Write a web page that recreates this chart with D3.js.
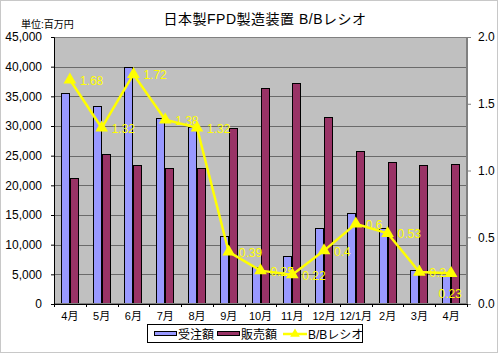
<!DOCTYPE html>
<html><head><meta charset="utf-8">
<script src="https://cdn.jsdelivr.net/npm/d3@7"></script>
<style>
html,body{margin:0;padding:0;background:#fff;}
text{font-family:"Liberation Sans","Noto Sans CJK JP",sans-serif;}
</style></head>
<body><svg id="c" width="500" height="355"></svg>
<script>
const categories = ["4月","5月","6月","7月","8月","9月","10月","11月","12月","12/1月","2月","3月","4月"];
const orders = [35600,33400,40000,31400,29900,11500,6300,8100,12800,15400,12800,5700,4800];
const sales = [21200,25300,23400,22900,23000,29700,36400,37200,31600,25800,23900,23400,23600];
const ratio = [1.68,1.32,1.72,1.38,1.32,0.39,0.25,0.22,0.4,0.6,0.53,0.24,0.23];
const leftTicks = [0,5000,10000,15000,20000,25000,30000,35000,40000,45000];
const rightTicks = [0,0.5,1.0,1.5,2.0];
const seriesNames = ["受注額","販売額","B/Bレシオ"];

const svg = d3.select("#c");
const L=54,R=467,T=37,B=304;
svg.append("rect").attr("x",0.5).attr("y",0.5).attr("width",497).attr("height",352)
  .attr("fill","#fff").attr("stroke","#c8c8c8");

const x = d3.scaleBand().domain(d3.range(categories.length)).range([L,R]).padding(0);
const x1 = d3.scaleBand().domain([0,1]).range([0,x.bandwidth()]).paddingInner(0).paddingOuter(0.77);
const y = d3.scaleLinear().domain([0,45000]).range([B,T]);
const y2 = d3.scaleLinear().domain([0,2]).range([B,T]);

svg.append("rect").attr("x",L).attr("y",T).attr("width",R-L).attr("height",B-T).attr("fill","#c0c0c0");
svg.append("g").selectAll("line").data(leftTicks.slice(1)).join("line")
  .attr("x1",L).attr("x2",R).attr("y1",d=>Math.round(y(d))+0.5).attr("y2",d=>Math.round(y(d))+0.5)
  .attr("stroke","#6a6a6a").attr("stroke-width",1);

const g = svg.append("g");
g.selectAll("rect.o").data(orders).join("rect").attr("class","o")
  .attr("x",(d,i)=>Math.round(x(i)+x1(0))+0.5).attr("width",Math.round(x1.bandwidth())-1)
  .attr("y",d=>Math.round(y(d))+0.5).attr("height",d=>B-Math.round(y(d))-0.5)
  .attr("fill","#9999ff").attr("stroke","#000").attr("stroke-width",1);
g.selectAll("rect.s").data(sales).join("rect").attr("class","s")
  .attr("x",(d,i)=>Math.round(x(i)+x1(1))+0.5).attr("width",Math.round(x1.bandwidth())-1)
  .attr("y",d=>Math.round(y(d))+0.5).attr("height",d=>B-Math.round(y(d))-0.5)
  .attr("fill","#993366").attr("stroke","#000").attr("stroke-width",1);

svg.append("rect").attr("x",L+0.5).attr("y",T+0.5).attr("width",R-L-1).attr("height",B-T-1)
  .attr("fill","none").attr("stroke","#808080");

const ax = svg.append("g").attr("transform",`translate(${L},0)`)
  .call(d3.axisLeft(y).tickValues(leftTicks).tickSize(3).tickFormat(d3.format(",")));
ax.select(".domain").attr("stroke","#000");
ax.selectAll("line").attr("stroke","#000");
ax.selectAll("text").attr("font-size",12).attr("fill","#000").attr("x",-12);
const ar = svg.append("g").attr("transform",`translate(${R},0)`)
  .call(d3.axisRight(y2).tickValues(rightTicks).tickSize(4).tickFormat(d3.format(".1f")));
ar.select(".domain").attr("stroke","#808080");
ar.selectAll("line").attr("stroke","#808080");
ar.selectAll("text").attr("font-size",12).attr("fill","#000").attr("x",11);
const ab = svg.append("g").attr("transform",`translate(0,${B})`)
  .call(d3.axisBottom(x).tickSize(0).tickFormat(i=>categories[i]));
ab.select(".domain").attr("stroke","#000");
ab.selectAll("text").attr("font-size",11).attr("fill","#000").attr("dy","1.15em");
svg.append("g").selectAll("line").data(d3.range(categories.length+1)).join("line")
  .attr("x1",i=>Math.round(L+i*x.step())+0.5).attr("x2",i=>Math.round(L+i*x.step())+0.5)
  .attr("y1",B).attr("y2",B+3).attr("stroke","#000");

const cx = i=>x(i)+x.bandwidth()/2;
svg.append("path").datum(ratio)
  .attr("d",d3.line().x((d,i)=>cx(i)).y(d=>y2(d)))
  .attr("fill","none").attr("stroke","#ffff00").attr("stroke-width",2.5);
svg.append("g").selectAll("path").data(ratio).join("path")
  .attr("transform",(d,i)=>`translate(${cx(i)},${y2(d)})`)
  .attr("d",d3.symbol(d3.symbolTriangle,70)).attr("fill","#ffff00");
svg.append("g").selectAll("text").data(ratio).join("text")
  .attr("x",(d,i)=> i===ratio.length-1 ? cx(i)-1 : cx(i)+10)
  .attr("y",(d,i)=> i===ratio.length-1 ? y2(d)+25 : y2(d)+5)
  .attr("text-anchor",(d,i)=> i===ratio.length-1 ? "middle":"start")
  .attr("font-size",12).attr("fill","#ffff00").text(d=>String(d));

svg.append("text").attr("x",265).attr("y",24).attr("text-anchor","middle")
  .attr("font-size",14).attr("letter-spacing",0.5).attr("fill","#000").text("日本製FPD製造装置 B/Bレシオ");
svg.append("text").attr("x",21).attr("y",28).attr("font-size",10).attr("fill","#000").text("単位:百万円");

const lg = svg.append("g");
lg.append("rect").attr("x",147.5).attr("y",324.5).attr("width",215).attr("height",18)
  .attr("fill","#fff").attr("stroke","#000");
const items = [{x:154,type:"bar",color:"#9999ff"},{x:217,type:"bar",color:"#993366"},{x:283,type:"line",color:"#ffff00"}];
items.forEach((it,k)=>{
  if(it.type==="bar"){
    lg.append("rect").attr("x",it.x+0.5).attr("y",331.5).attr("width",22).attr("height",4)
      .attr("fill",it.color).attr("stroke","#000");
  } else {
    lg.append("line").attr("x1",it.x).attr("x2",it.x+24).attr("y1",334).attr("y2",334)
      .attr("stroke",it.color).attr("stroke-width",2.5);
    lg.append("path").attr("transform",`translate(${it.x+12},334)`)
      .attr("d",d3.symbol(d3.symbolTriangle,40)).attr("fill",it.color);
  }
  lg.append("text").attr("x",it.x+(it.type==="bar"?24:25)).attr("y",339)
    .attr("font-size",12).attr("fill","#000").text(seriesNames[k]);
});
</script></body></html>
